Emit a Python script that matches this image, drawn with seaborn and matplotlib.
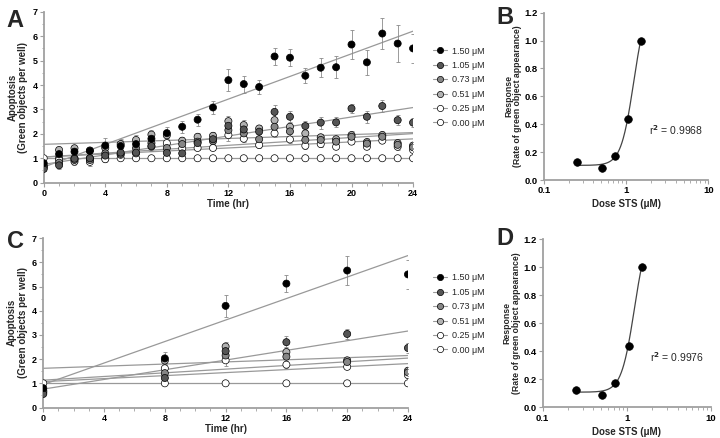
import numpy as np
import pandas as pd
import matplotlib
matplotlib.use("Agg")
import matplotlib.pyplot as plt
from matplotlib.lines import Line2D
from matplotlib.ticker import MultipleLocator, LogLocator, FixedFormatter, FixedLocator, NullFormatter
import seaborn as sns

# time course (panel A, hourly)
hours = [0, 1, 2, 3, 4, 5, 6, 7, 8, 9, 10, 11, 12, 13, 14, 15, 16, 17, 18, 19, 20, 21, 22, 23, 24]
dose_labels = ["1.50 μM", "1.05 μM", "0.73 μM", "0.51 μM", "0.25 μM", "0.00 μM"]
dose_colors = ["#000000", "#555555", "#868686", "#b2b2b2", "#ffffff", "#ffffff"]

apop_150 = [0.80, 1.17, 1.27, 1.30, 1.52, 1.50, 1.58, 1.80, 2.03, 2.29, 2.58, 3.08, 4.20, 4.04, 3.92,
            5.17, 5.12, 4.38, 4.71, 4.73, 5.66, 4.93, 6.11, 5.70, 5.50]
apop_105 = [0.56, 0.71, 0.98, 1.00, 1.11, 1.23, 1.23, 1.50, 1.22, 1.20, 1.62, 1.78, 2.33, 2.18, 2.09,
            2.90, 2.70, 2.32, 2.46, 2.47, 3.04, 2.70, 3.14, 2.56, 2.46]
apop_073 = [0.66, 0.82, 0.93, 0.93, 1.20, 1.18, 1.41, 1.62, 1.42, 1.58, 1.68, 1.70, 2.15, 2.02, 1.78,
            2.29, 2.10, 1.75, 1.75, 1.68, 1.88, 1.60, 1.88, 1.55, 1.45]
apop_051 = [0.70, 1.34, 1.41, 1.32, 1.42, 1.58, 1.75, 1.97, 1.94, 1.72, 1.88, 1.92, 2.52, 2.36, 2.22,
            2.56, 2.29, 2.02, 1.86, 1.78, 1.95, 1.66, 1.95, 1.62, 1.52]
apop_025 = [0.62, 0.93, 0.86, 0.85, 0.96, 1.14, 1.20, 1.48, 1.62, 1.40, 1.42, 1.42, 1.95, 1.80, 1.54,
            2.02, 1.77, 1.51, 1.58, 1.47, 1.68, 1.47, 1.72, 1.47, 1.34]
apop_000 = [1.00, 1.00, 1.00, 1.00, 1.00, 1.00, 1.00, 1.00, 1.00, 1.00, 1.00, 1.00, 1.00, 1.00, 1.00,
            1.00, 1.00, 1.00, 1.00, 1.00, 1.00, 1.00, 1.00, 1.00, 1.00]

err_150 = [0.10, 0.15, 0.15, 0.10, 0.30, 0.30, 0.25, 0.25, 0.25, 0.25, 0.25, 0.25, 0.45, 0.35, 0.30,
           0.35, 0.35, 0.30, 0.40, 0.45, 0.60, 0.50, 0.65, 0.75, 0.60]
err_105 = [0.10, 0.15, 0.15, 0.10, 0.15, 0.15, 0.15, 0.20, 0.20, 0.15, 0.20, 0.20, 0.25, 0.25, 0.20,
           0.30, 0.25, 0.20, 0.25, 0.20, 0.20, 0.25, 0.25, 0.20, 0.20]
err_073 = [0.10, 0.10, 0.15, 0.10, 0.15, 0.15, 0.15, 0.15, 0.15, 0.15, 0.15, 0.15, 0.20, 0.20, 0.20,
           0.20, 0.20, 0.15, 0.15, 0.15, 0.15, 0.15, 0.15, 0.15, 0.15]
err_051 = [0.10, 0.10, 0.15, 0.15, 0.15, 0.15, 0.20, 0.20, 0.20, 0.15, 0.15, 0.15, 0.20, 0.20, 0.15,
           0.25, 0.20, 0.15, 0.15, 0.15, 0.15, 0.15, 0.15, 0.15, 0.15]
err_025 = [0.08, 0.10, 0.15, 0.15, 0.10, 0.10, 0.15, 0.15, 0.20, 0.10, 0.10, 0.10, 0.25, 0.15, 0.10,
           0.15, 0.15, 0.15, 0.10, 0.10, 0.10, 0.10, 0.10, 0.15, 0.10]

# linear fits (intercept at t=0, slope per hour)
fit_int_a = [0.64, 0.75, 1.05, 1.57, 1.05, 1.00]
fit_slope_a = [0.232, 0.097, 0.031, 0.020, 0.040, 0.0]
fit_int_c = [0.95, 0.76, 1.07, 1.62, 1.13, 1.00]
fit_slope_c = [0.222, 0.100, 0.031, 0.022, 0.038, 0.0]

# panel C uses 4-hourly reads
hours_c = [0, 8, 12, 16, 20, 24]

# dose response (B, D)
sts_dose = [0.25, 0.51, 0.73, 1.05, 1.50]
rate_b = [0.13, 0.085, 0.175, 0.435, 1.0]
rate_d = [0.125, 0.09, 0.175, 0.44, 1.0]
hill_b = [0.105, 1.30, 1.234, 5.6]   # bottom, top, ec50, hill slope
hill_d = [0.108, 1.30, 1.230, 5.6]
r2_b = "0.9968"
r2_d = "0.9976"

series = [apop_150, apop_105, apop_073, apop_051, apop_025, apop_000]
errors = [err_150, err_105, err_073, err_051, err_025, None]

sns.set_theme(style="ticks")
plt.rcParams["font.family"] = ["Liberation Sans", "DejaVu Sans"]
plt.rcParams["font.weight"] = "bold"
plt.rcParams["axes.labelweight"] = "bold"

AX_GRAY = "#a0a0a0"


def style_axis(ax, tick_size):
    sns.despine(ax=ax)
    for s in ["left", "bottom"]:
        ax.spines[s].set_color(AX_GRAY)
        ax.spines[s].set_linewidth(1.3)
    ax.tick_params(which="major", color=AX_GRAY, width=0.8, length=3, labelsize=tick_size,
                   pad=1.5, labelcolor="black")
    ax.tick_params(which="minor", color=AX_GRAY, width=0.6, length=1.8)
    plt.setp(ax.get_xticklabels() + ax.get_yticklabels(), fontweight="bold")


def draw_timecourse(ax, keep, fit_int, fit_slope):
    t = [hours[i] for i in keep]
    rows = []
    tl = np.array([0, 24])
    for k in range(len(dose_labels)):
        ax.plot(tl, fit_int[k] + fit_slope[k] * tl, color="#999999", lw=0.9, zorder=1)
    for k in range(len(dose_labels) - 1, -1, -1):
        y = [series[k][i] for i in keep]
        if errors[k] is not None:
            e = [errors[k][i] for i in keep]
            ax.errorbar(t, y, yerr=e, fmt="none", ecolor="#8a8a8a", elinewidth=0.6,
                        capsize=1.2, capthick=0.6, zorder=2)
        for ti, yi in zip(t, y):
            rows.append({"time": ti, "value": yi, "dose": dose_labels[k]})
    df = pd.DataFrame(rows)
    sns.scatterplot(data=df, x="time", y="value", hue="dose", hue_order=dose_labels,
                    palette=dose_colors, s=26, edgecolor="black", linewidth=0.5,
                    legend=False, ax=ax, zorder=3)
    ax.set_xlim(0, 24)
    ax.set_ylim(0, 7)
    ax.xaxis.set_major_locator(MultipleLocator(4))
    ax.xaxis.set_minor_locator(MultipleLocator(1))
    ax.yaxis.set_major_locator(MultipleLocator(1))
    ax.yaxis.set_minor_locator(MultipleLocator(0.5))
    ax.set_xlabel("Time (hr)", fontsize=7, labelpad=1)
    ax.set_ylabel("Apoptosis\n(Green objects per well)", fontsize=7, labelpad=3, linespacing=1.1)
    style_axis(ax, 6.5)


def draw_dose(ax, rate, hill, r2):
    bottom, top, ec50, h = hill
    xs = np.geomspace(min(sts_dose), max(sts_dose), 200)
    ax.plot(xs, bottom + (top - bottom) / (1 + (ec50 / xs) ** h), color="#444444", lw=0.9, zorder=1)
    sns.scatterplot(x=sts_dose, y=rate, color="black", s=30, edgecolor="black", linewidth=0.5,
                    ax=ax, zorder=3)
    ax.set_xscale("log")
    ax.set_xlim(0.1, 10)
    ax.xaxis.set_major_locator(FixedLocator([0.1, 1, 10]))
    ax.xaxis.set_major_formatter(FixedFormatter(["0.1", "1", "10"]))
    ax.xaxis.set_minor_locator(LogLocator(base=10, subs=np.arange(2, 10)))
    ax.xaxis.set_minor_formatter(NullFormatter())
    yt = [0.0, 0.2, 0.4, 0.6, 0.8, 1.0, 1.2]
    ax.set_yticks(yt)
    ax.set_yticklabels([f"{v:.1f}" for v in yt])
    ax.set_ylim(0, 1.2)
    ax.set_xlabel("Dose STS (μM)", fontsize=7, labelpad=3)
    ax.set_ylabel("Response\n(Rate of green object appearance)", fontsize=6.3, labelpad=1.5,
                  linespacing=1.05)
    ax.text(0.64, 0.3, "r$^2$ = " + r2, transform=ax.transAxes, fontsize=7.5,
            fontweight="normal", ha="left", va="center")
    style_axis(ax, 6.8)


fig = plt.figure(figsize=(7.2, 4.38), dpi=100)
ax_a = fig.add_axes([0.0607, 0.583, 0.513, 0.390])
ax_c = fig.add_axes([0.0601, 0.0696, 0.5065, 0.3868])
ax_b = fig.add_axes([0.7556, 0.589, 0.2282, 0.382])
ax_d = fig.add_axes([0.7537, 0.0701, 0.2338, 0.3836])

draw_timecourse(ax_a, list(range(len(hours))), fit_int_a, fit_slope_a)
draw_timecourse(ax_c, [hours.index(h) for h in hours_c], fit_int_c, fit_slope_c)
draw_dose(ax_b, rate_b, hill_b, r2_b)
draw_dose(ax_d, rate_d, hill_d, r2_d)

handles = [Line2D([0], [0], color="#999999", lw=0.8, marker="o", markersize=4.5,
                  markerfacecolor=c, markeredgecolor="black", markeredgewidth=0.5)
           for c in dose_colors]
for top in [46.5 / 438, 273.5 / 438]:
    fig.legend(handles, dose_labels, loc="upper left", bbox_to_anchor=(433 / 720, 1 - top),
               bbox_transform=fig.transFigure, frameon=False, borderpad=0, borderaxespad=0,
               handlelength=1.6, handletextpad=0.5, labelspacing=0.6,
               prop={"size": 6.5, "weight": "normal"})

for letter, x, y in [("A", 6, 27), ("B", 496, 24), ("C", 7, 248), ("D", 496, 245)]:
    fig.text(x / 720, 1 - y / 438, letter, fontsize=17, fontweight="bold", va="baseline")

plt.savefig("out.png", dpi=100)
plt.close()
